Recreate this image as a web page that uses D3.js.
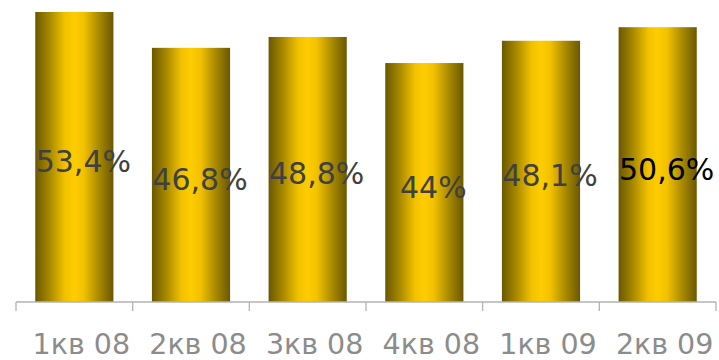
<!DOCTYPE html>
<html>
<head>
<meta charset="utf-8">
<script src="https://cdn.jsdelivr.net/npm/d3@7"></script>
<style>
  html, body { margin: 0; padding: 0; background: #fff; }
  svg { display: block; }
</style>
</head>
<body>
<svg id="chart" width="719" height="360"></svg>
<script>
// Quarterly share, %
const categories = ["1кв 08", "2кв 08", "3кв 08", "4кв 08", "1кв 09", "2кв 09"];
const values = [53.4, 46.8, 48.8, 44.0, 48.1, 50.6];
const valueLabels = ["53,4%", "46,8%", "48,8%", "44%", "48,1%", "50,6%"];

const svg = d3.select("#chart");
const margin = { left: 16, right: 3, top: 0, baseline: 302 };

const x = d3.scaleBand()
  .domain(categories)
  .range([margin.left, 719 - margin.right])
  .paddingInner(0.33)
  .paddingOuter(0.165);

const y = d3.scaleLinear()
  .domain([0, 55])
  .range([margin.baseline, 3.3]);

// Metallic gold gradient across each bar
const defs = svg.append("defs");
const grad = defs.append("linearGradient")
  .attr("id", "gold")
  .attr("x1", "0%").attr("x2", "100%")
  .attr("y1", "0%").attr("y2", "0%");
[
  [0, "#6a5800"],
  [0.18, "#a68800"],
  [0.38, "#f2c200"],
  [0.5, "#ffcc00"],
  [0.62, "#f2c200"],
  [0.82, "#a68800"],
  [1, "#6a5800"]
].forEach(([o, c]) => grad.append("stop").attr("offset", o).attr("stop-color", c));

svg.append("g")
  .selectAll("rect")
  .data(values)
  .join("rect")
  .attr("x", (d, i) => x(categories[i]))
  .attr("y", d => y(d))
  .attr("width", x.bandwidth())
  .attr("height", d => y(0) - y(d))
  .attr("fill", "url(#gold)");

// Category axis: baseline with ticks between categories
const step = x.step();
const axisX0 = margin.left;
const axis = svg.append("g").attr("stroke", "#b3b3b3").attr("stroke-width", 1.3);
axis.append("line")
  .attr("x1", axisX0).attr("x2", axisX0 + step * categories.length)
  .attr("y1", margin.baseline).attr("y2", margin.baseline);
d3.range(categories.length + 1).forEach(i => {
  axis.append("line")
    .attr("x1", axisX0 + i * step).attr("x2", axisX0 + i * step)
    .attr("y1", margin.baseline).attr("y2", margin.baseline + 9);
});

svg.append("g")
  .selectAll("text")
  .data(categories)
  .join("text")
  .attr("x", d => x(d) + x.bandwidth() / 2 + 7)
  .attr("y", 354)
  .attr("text-anchor", "middle")
  .attr("font-family", "DejaVu Sans, Verdana, sans-serif")
  .attr("font-size", 28.5)
  .attr("fill", "#8c8c8c")
  .text(d => d);

// Value labels inside the bars
svg.append("g")
  .selectAll("text")
  .data(values)
  .join("text")
  .attr("x", (d, i) => x(categories[i]) + x.bandwidth() / 2 + 9)
  .attr("y", d => (y(d) + y(0)) / 2 + 15)
  .attr("text-anchor", "middle")
  .attr("font-family", "DejaVu Sans, Verdana, sans-serif")
  .attr("font-size", 30)
  .attr("fill", (d, i) => i === values.length - 1 ? "#000000" : "#404040")
  .text((d, i) => valueLabels[i]);
</script>
</body>
</html>
